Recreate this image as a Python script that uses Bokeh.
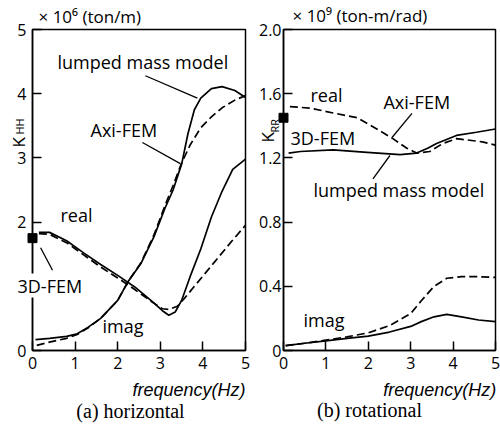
import math
from bokeh.plotting import figure
from bokeh.models import Range1d, FixedTicker, Label
from bokeh.layouts import row
from bokeh.embed import file_html
from bokeh.resources import INLINE

# ---------------- data: (a) horizontal ----------------
h_x_ticks = [0, 1, 2, 3, 4, 5]
h_y_ticks = [0, 2, 3, 4, 5]
h_y_labels = ["0", "2", "3", "4", "5"]
H_XMAX, H_YMAX = 5, 5

h_real_lumped_f = [0.15, 0.4, 0.8, 1.2, 1.6, 2.0, 2.4, 2.8, 3.05, 3.2, 3.35, 3.5, 3.7, 3.95, 4.2, 4.45, 4.7, 5.0]
h_real_lumped_v = [1.84, 1.84, 1.71, 1.52, 1.34, 1.17, 0.99, 0.77, 0.62, 0.55, 0.60, 0.78, 1.15, 1.58, 2.08, 2.48, 2.82, 2.98]

h_real_axi_f = [0.15, 0.4, 0.8, 1.2, 1.6, 2.0, 2.4, 2.8, 3.05, 3.2, 3.4, 3.55, 3.8, 4.1, 4.4, 4.7, 5.0]
h_real_axi_v = [1.82, 1.81, 1.68, 1.49, 1.30, 1.13, 0.95, 0.76, 0.65, 0.64, 0.69, 0.80, 1.00, 1.24, 1.48, 1.72, 1.95]

h_imag_lumped_f = [0.07, 0.4, 0.8, 1.05, 1.3, 1.6, 2.0, 2.25, 2.55, 2.85, 3.1, 3.3, 3.5, 3.65, 3.8, 3.95, 4.2, 4.45, 4.75, 5.0]
h_imag_lumped_v = [0.17, 0.19, 0.22, 0.26, 0.36, 0.50, 0.78, 1.08, 1.36, 1.77, 2.20, 2.50, 2.90, 3.38, 3.75, 3.93, 4.08, 4.11, 4.05, 3.94]

h_imag_axi_f = [0.1, 0.4, 0.8, 1.05, 1.3, 1.6, 2.0, 2.25, 2.55, 2.85, 3.1, 3.3, 3.5, 3.7, 3.95, 4.2, 4.45, 4.75, 5.0]
h_imag_axi_v = [0.08, 0.13, 0.19, 0.25, 0.35, 0.50, 0.78, 1.08, 1.37, 1.80, 2.24, 2.57, 2.92, 3.20, 3.47, 3.64, 3.78, 3.90, 3.97]

h_3d_f = [0.0]
h_3d_v = [1.75]

# ---------------- data: (b) rotational ----------------
r_x_ticks = [0, 1, 2, 3, 4, 5]
r_y_ticks = [0, 0.4, 0.8, 1.2, 1.6, 2.0]
r_y_labels = ["0", "0.4", "0.8", "1.2", "1.6", "2.0"]
R_XMAX, R_YMAX = 5, 2.0

r_real_axi_f = [0.15, 0.63, 1.17, 1.74, 2.2, 2.58, 2.91, 3.14, 3.45, 3.76, 4.08, 4.39, 4.69, 5.0]
r_real_axi_v = [1.52, 1.51, 1.48, 1.45, 1.38, 1.32, 1.26, 1.23, 1.24, 1.29, 1.32, 1.31, 1.30, 1.28]

r_real_lumped_f = [0.12, 0.4, 1.17, 1.97, 2.75, 3.14, 3.4, 3.61, 4.08, 4.55, 5.0]
r_real_lumped_v = [1.23, 1.24, 1.25, 1.235, 1.22, 1.23, 1.26, 1.29, 1.34, 1.36, 1.38]

r_imag_lumped_f = [0.05, 0.5, 1.0, 1.5, 2.0, 2.5, 3.0, 3.25, 3.55, 3.85, 4.2, 4.6, 5.0]
r_imag_lumped_v = [0.03, 0.045, 0.06, 0.075, 0.09, 0.115, 0.15, 0.18, 0.21, 0.225, 0.21, 0.19, 0.18]

r_imag_axi_f = [0.05, 0.5, 1.0, 1.5, 2.0, 2.5, 3.0, 3.25, 3.55, 3.85, 4.2, 4.6, 5.0]
r_imag_axi_v = [0.03, 0.045, 0.065, 0.085, 0.11, 0.155, 0.23, 0.31, 0.40, 0.45, 0.46, 0.46, 0.455]

r_3d_f = [0.0]
r_3d_v = [1.45]

# ---------------- layout / styling ----------------
SANS = "Open Sans"
ITAL = "Liberation Sans"
SERIF = "Liberation Serif"
LW = 1.7
DASH = "8 4"
CANVAS_H = 425
FRAME_TOP, FRAME_BOTTOM = 29, 350   # pixel rows of the plot box


def make_fig(width, box_left, box_right, xmax, ymax, x_ticks, y_ticks, y_labels, y_standoff):
    # the canvas is entirely plot area; axes sit at fixed data positions
    sx = (box_right - box_left) / xmax
    sy = (FRAME_BOTTOM - FRAME_TOP) / ymax
    x0 = -box_left / sx
    x1 = x0 + width / sx
    y0 = -(CANVAS_H - FRAME_BOTTOM) / sy
    y1 = ymax + FRAME_TOP / sy
    p = figure(width=width, height=CANVAS_H, output_backend="svg", toolbar_location=None,
               x_range=Range1d(x0, x1), y_range=Range1d(y0, y1), min_border=0,
               x_axis_location="below", y_axis_location="left")
    p.title.visible = False
    p.outline_line_color = None
    p.background_fill_color = "white"
    p.border_fill_color = "white"
    p.xgrid.visible = False
    p.ygrid.visible = False
    xa, ya = p.xaxis[0], p.yaxis[0]
    xa.fixed_location = 0
    ya.fixed_location = 0
    xa.bounds = (0, xmax)
    ya.bounds = (0, ymax)
    for ax in (xa, ya):
        ax.axis_line_width = 1.5
        ax.major_tick_line_width = 1.5
        ax.major_tick_in = 9
        ax.major_tick_out = 0
        ax.minor_tick_line_color = None
        ax.major_label_text_font = SANS
        ax.major_label_text_font_size = "16px"
        ax.major_label_text_color = "black"
    xa.ticker = FixedTicker(ticks=x_ticks)
    xa.major_label_standoff = 6
    ya.ticker = FixedTicker(ticks=y_ticks)
    ya.major_label_overrides = {t: l for t, l in zip(y_ticks, y_labels)}
    ya.major_label_standoff = y_standoff
    # plot box (top and right sides)
    p.quad(left=[0], right=[xmax], bottom=[0], top=[ymax], fill_color=None,
           line_color="black", line_width=1.5)
    return p


def lab(p, x, y, text, size="18px", align="left", baseline="middle", font=SANS,
        style="normal", angle=0.0, bg=None):
    p.add_layout(Label(x=x, y=y, text=text, text_font=font, text_font_size=size,
                       text_align=align, text_baseline=baseline, text_font_style=style,
                       text_color="black", angle=angle,
                       background_fill_color=bg, background_fill_alpha=1.0 if bg else 0.0))


# ---------------- (a) horizontal ----------------
p1 = make_fig(250, 32, 245, H_XMAX, H_YMAX, h_x_ticks, h_y_ticks, h_y_labels, 6)
p1.line(h_real_lumped_f, h_real_lumped_v, line_color="black", line_width=LW)
p1.line(h_real_axi_f, h_real_axi_v, line_color="black", line_width=LW, line_dash=DASH)
p1.line(h_imag_lumped_f, h_imag_lumped_v, line_color="black", line_width=LW)
p1.line(h_imag_axi_f, h_imag_axi_v, line_color="black", line_width=LW, line_dash=DASH)
p1.scatter(h_3d_f, h_3d_v, marker="square", size=9, fill_color="black", line_color="black")

# leader lines (annotation positions)
p1.segment(x0=[2.65, 2.58, 0.19], y0=[4.28, 3.24, 1.60],
           x1=[3.87, 3.47, 0.47], y1=[3.93, 2.91, 1.25],
           line_color="black", line_width=1.3)

lab(p1, 0.587, 4.50, "lumped mass model")
lab(p1, 1.362, 3.435, "Axi-FEM")
lab(p1, 0.657, 2.103, "real")
lab(p1, -0.352, 1.012, "3D-FEM", bg="white")
lab(p1, 1.643, 0.389, "imag")
lab(p1, 0.141, 5.203, "× 10⁶ (ton/m)", size="17px")
lab(p1, -0.329, 3.162, "K", size="17px", angle=math.pi / 2)
lab(p1, -0.31, 3.364, "HH", size="11px", angle=math.pi / 2)
lab(p1, 5.0, -0.61, "frequency(Hz)", size="18px", align="right", style="italic", font=ITAL)
lab(p1, 2.30, -0.935, "(a) horizontal", size="20px", align="center", font=SERIF)

# ---------------- (b) rotational ----------------
p2 = make_fig(250, 33, 245, R_XMAX, R_YMAX, r_x_ticks, r_y_ticks, r_y_labels, 2)
p2.line(r_real_axi_f, r_real_axi_v, line_color="black", line_width=LW, line_dash=DASH)
p2.line(r_real_lumped_f, r_real_lumped_v, line_color="black", line_width=LW)
p2.line(r_imag_lumped_f, r_imag_lumped_v, line_color="black", line_width=LW)
p2.line(r_imag_axi_f, r_imag_axi_v, line_color="black", line_width=LW, line_dash=DASH)
p2.scatter(r_3d_f, r_3d_v, marker="square", size=9, fill_color="black", line_color="black")

p2.segment(x0=[3.03, 2.11], y0=[1.477, 1.07], x1=[2.56, 2.51], y1=[1.327, 1.215],
           line_color="black", line_width=1.3)

lab(p2, 0.637, 1.595, "real")
lab(p2, 2.358, 1.551, "Axi-FEM")
lab(p2, 0.165, 1.324, "3D-FEM")
lab(p2, 0.708, 1.00, "lumped mass model")
lab(p2, 0.472, 0.193, "imag")
lab(p2, 0.212, 2.087, "× 10⁹ (ton-m/rad)", size="17px")
lab(p2, -0.366, 1.296, "K", size="17px", angle=math.pi / 2)
lab(p2, -0.21, 1.358, "RR", size="11px", angle=math.pi / 2)
lab(p2, 5.02, -0.245, "frequency(Hz)", size="18px", align="right", style="italic", font=ITAL)
lab(p2, 2.028, -0.368, "(b) rotational", size="20px", align="center", font=SERIF)

layout = row(p1, p2)
open("out.html", "w").write(file_html(layout, INLINE))
